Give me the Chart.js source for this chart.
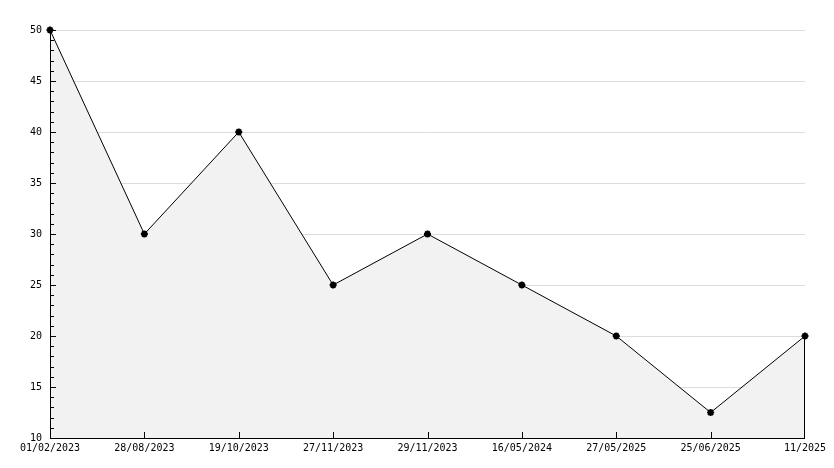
<!DOCTYPE html>
<html>
<head>
<meta charset="utf-8">
<script src="https://cdn.jsdelivr.net/npm/chart.js@4"></script>
<style>
  html, body { margin: 0; padding: 0; background: #fff; }
  #wrap { width: 834px; height: 468px; }
</style>
</head>
<body>
<div id="wrap"><canvas id="chartLine"></canvas></div>
<script>
const dates = ["01/02/2023", "28/08/2023", "19/10/2023", "27/11/2023", "29/11/2023",
  "16/05/2024", "27/05/2025", "25/06/2025", "11/2025"];
const values = [50, 30, 40, 25, 30, 25, 20, 12.5, 20];
const yMin = 10;
const yMax = 50;
const yStep = 5;

// axes + inward ticks, drawn after the fill so they stay on top
const axisTicks = {
  id: "axisTicks",
  afterDatasetsDraw(chart) {
    const ctx = chart.ctx;
    const area = chart.chartArea;
    const x = chart.scales.x;
    const y = chart.scales.y;
    ctx.save();
    ctx.strokeStyle = "#000";
    ctx.lineWidth = 1;
    ctx.beginPath();
    ctx.moveTo(area.left + 0.5, area.top);
    ctx.lineTo(area.left + 0.5, area.bottom + 0.5);
    ctx.lineTo(area.right, area.bottom + 0.5);
    for (let v = yMin; v <= yMax; v++) {
      const py = Math.round(y.getPixelForValue(v)) + 0.5;
      const len = v % yStep === 0 ? 6 : 4;
      ctx.moveTo(area.left, py);
      ctx.lineTo(area.left + len, py);
    }
    for (let i = 1; i < dates.length - 1; i++) {
      const px = Math.round(x.getPixelForValue(i)) + 0.5;
      ctx.moveTo(px, area.bottom);
      ctx.lineTo(px, area.bottom - 6);
    }
    // closing edge of the filled area at the last point
    const meta = chart.getDatasetMeta(0);
    const last = meta.data[meta.data.length - 1];
    const lx = Math.round(last.x) - 0.5;
    ctx.moveTo(lx, last.y);
    ctx.lineTo(lx, area.bottom);
    ctx.stroke();
    ctx.restore();
  }
};

const configLine = {
  type: "line",
  data: {
    labels: dates,
    datasets: [
      {
        data: values,
        borderColor: "#000",
        borderWidth: 1,
        backgroundColor: "#f2f2f2",
        fill: "start",
        tension: 0,
        clip: false,
        pointStyle: "star",
        pointRadius: 3.5,
        pointBorderWidth: 2,
        pointBorderColor: "#000",
        pointBackgroundColor: "#000",
      },
    ],
  },
  options: {
    responsive: true,
    maintainAspectRatio: false,
    animation: false,
    devicePixelRatio: 1,
    layout: { padding: { top: 30, right: 29, left: 0, bottom: 0 } },
    plugins: { legend: { display: false }, tooltip: { enabled: false } },
    scales: {
      x: {
        type: "category",
        offset: false,
        grid: { display: false, drawTicks: false },
        border: { display: false },
        ticks: {
          color: "#000",
          font: { family: "DejaVu Sans Mono", size: 10 },
          maxRotation: 0,
          autoSkip: false,
          padding: 4,
        },
        afterFit(s) { s.height = 30; },
      },
      y: {
        min: yMin,
        max: yMax,
        grid: { color: "#dcdcdc", drawTicks: false, lineWidth: 1 },
        border: { display: false },
        ticks: {
          stepSize: yStep,
          color: "#000",
          font: { family: "DejaVu Sans Mono", size: 10 },
          padding: 8,
        },
        afterFit(s) { s.width = 50; },
      },
    },
  },
  plugins: [axisTicks],
};

new Chart(document.getElementById("chartLine"), configLine);
</script>
</body>
</html>
